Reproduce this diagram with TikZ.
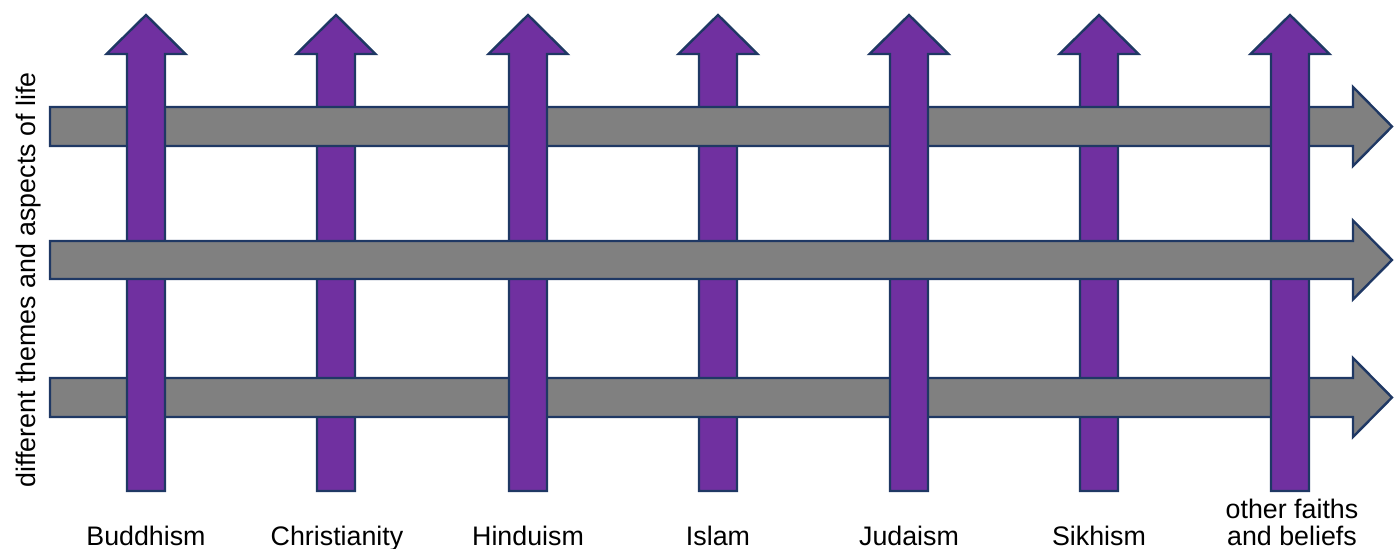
\documentclass[tikz,border=0pt]{standalone}
\usepackage{fontspec}
\setmainfont{Liberation Sans}
\usepackage{xcolor}
\definecolor{EdgeNavy}{RGB}{31,56,100}
\definecolor{FaithPurple}{RGB}{112,48,160}
\definecolor{ThemeGray}{RGB}{128,128,128}
\usepackage{tikz}
\usetikzlibrary{positioning}
\tikzset{
  % Upright purple arrow (one faith)
  faith/.style={
    draw=EdgeNavy, line width=1.2pt,
    fill=FaithPurple, line join=miter
  },
  % Sideways grey arrow (one theme)
  theme/.style={
    draw=EdgeNavy, line width=1.2pt,
    fill=ThemeGray, line join=miter
  },
  % Text under the arrows
  flabel/.style={
    font=\fontsize{13.4}{13.6}\selectfont,
    inner sep=0pt, align=center
  },
}

\begin{document}
\begin{tikzpicture}[x=0.5pt, y=-0.5pt]

  \useasboundingbox (0,0) rectangle (1399,549);

  %% Faith arrows that pass under rows 1 and 3
  \foreach \cx in {336,718,1099}
    \draw[faith] (\cx-19,491) -- (\cx-19,54) -- (\cx-39.5,54) -- (\cx,15)
      -- (\cx+39.5,54) -- (\cx+19,54) -- (\cx+19,491) -- cycle;

  %% Theme rows 1 and 3
  \foreach \cy in {126.5,397.5}
    \draw[theme] (50,\cy-19.5) -- (1353,\cy-19.5) -- (1353,\cy-39.5) -- (1392,\cy)
      -- (1353,\cy+39.5) -- (1353,\cy+19.5) -- (50,\cy+19.5) -- cycle;

  %% Faith arrows that pass over rows 1 and 3
  \foreach \cx in {146,528,909,1290}
    \draw[faith] (\cx-19,491) -- (\cx-19,54) -- (\cx-39.5,54) -- (\cx,15)
      -- (\cx+39.5,54) -- (\cx+19,54) -- (\cx+19,491) -- cycle;

  %% Theme row 2 (over every faith)
  \draw[theme] (50,241) -- (1353,241) -- (1353,220.5) -- (1392,260)
    -- (1353,299.5) -- (1353,279) -- (50,279) -- cycle;

  %% Labels
  \node[flabel, anchor=base] (buddhism)     at (146,546)  {Buddhism};
  \node[flabel, anchor=base] (christianity) at (337,546)  {Christianity};
  \node[flabel, anchor=base] (hinduism)     at (528,546)  {Hinduism};
  \node[flabel, anchor=base] (islam)        at (718,546)  {Islam};
  \node[flabel, anchor=base] (judaism)      at (909,546)  {Judaism};
  \node[flabel, anchor=base] (sikhism)      at (1099,546) {Sikhism};
  \node[flabel, anchor=base] (other)        at (1292,546) {other faiths\\and beliefs};

  \node[flabel, rotate=90] (themes) at (29,280) {different themes and aspects of life};

\end{tikzpicture}
\end{document}
